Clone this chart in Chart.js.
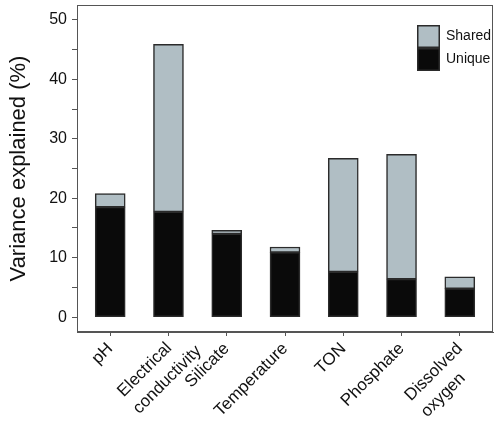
<!DOCTYPE html>
<html><head><meta charset="utf-8">
<script src="https://cdn.jsdelivr.net/npm/chart.js@4"></script>
<style>html,body{margin:0;padding:0;background:#fff}#w{width:500px;height:427px}</style>
</head><body><div id="w"><canvas id="c"></canvas></div>
<script>
const categories = [['pH'], ['Electrical', 'conductivity'], ['Silicate'], ['Temperature'], ['TON'], ['Phosphate'], ['Dissolved', 'oxygen']];
const uniqueVals = [18.5, 17.7, 14.0, 10.9, 7.6, 6.4, 4.8];
const sharedVals = [2.3, 28.2, 0.6, 0.9, 19.1, 21.0, 2.0];
const yTickValues = [0, 5, 10, 15, 20, 25, 30, 35, 40, 45, 50];
const seriesNames = ['Unique', 'Shared'];

const FONT = '"Liberation Sans", Arial, Helvetica, sans-serif';
const AXIS = '#555';
const XFONT = 17;

// pad lines with trailing spaces so multi-line rotated labels look left-aligned
const mctx = document.createElement('canvas').getContext('2d');
mctx.font = XFONT + 'px ' + FONT;
const labelShift = [];
function padLines(lines, idx) {
  labelShift[idx] = 0;
  if (lines.length < 2) return lines[0];
  const sp = mctx.measureText(' ').width;
  const ws = lines.map(l => mctx.measureText(l).width);
  const mx = Math.max(...ws);
  const out = lines.map((l, i) => l + ' '.repeat(Math.round((mx - ws[i]) / sp)));
  labelShift[idx] = mx - ws[0]; // first line should end at the tick
  return out;
}
function noPad(s) { s.paddingTop = 0; s.paddingBottom = 0; s.paddingLeft = 0; s.paddingRight = 0; }

const framePlugin = {
  id: 'frame',
  beforeDraw(chart) {
    const sc = chart.scales.x;
    const items = sc.getLabelItems();
    items.forEach((it, i) => {
      const d = labelShift[i] || 0;
      if (d && !it._shifted) {
        const r = it.options.rotation;
        it.options.translation = [it.options.translation[0] + d * Math.cos(r), it.options.translation[1] + d * Math.sin(r)];
        it._shifted = true;
      }
    });
  },
  afterDatasetsDraw(chart) {
    const {ctx, chartArea: a} = chart;
    ctx.save();
    ctx.strokeStyle = AXIS;
    ctx.lineWidth = 1;
    ctx.strokeRect(a.left + 0.5, a.top + 0.5, a.right - a.left - 1, a.bottom - a.top - 1);
    // legend
    const ds = chart.data.datasets.slice().reverse();
    const bx = a.right - 76, by = a.top + 20, s = 23;
    ds.forEach((d, i) => {
      const y = by + i * s;
      ctx.fillStyle = d.backgroundColor;
      ctx.fillRect(bx, y, s, s);
      ctx.strokeStyle = '#2b2b2b';
      ctx.lineWidth = 1.5;
      ctx.strokeRect(bx + 0.75, y + 0.75, s - 1.5, s - 1.5);
      ctx.fillStyle = '#111';
      ctx.font = '14px ' + FONT;
      ctx.textBaseline = 'middle';
      ctx.textAlign = 'left';
      ctx.fillText(d.label, bx + s + 6, y + s / 2);
    });
    ctx.restore();
  }
};

new Chart(document.getElementById('c'), {
  type: 'bar',
  data: {
    datasets: [
      {label: seriesNames[0], data: uniqueVals.map((v, i) => ({x: i, y: v})), backgroundColor: '#0a0a0a', borderColor: '#2b2b2b', borderWidth: 1.5, borderSkipped: false},
      {label: seriesNames[1], data: sharedVals.map((v, i) => ({x: i, y: v})), backgroundColor: '#b0bec4', borderColor: '#2b2b2b', borderWidth: 1.5, borderSkipped: false}
    ]
  },
  options: {
    responsive: true,
    maintainAspectRatio: false,
    animation: false,
    devicePixelRatio: 1,
    layout: {padding: {top: 5, right: 7, left: 0, bottom: 0}},
    datasets: {bar: {barThickness: 30}},
    plugins: {legend: {display: false}, tooltip: {enabled: false}},
    scales: {
      x: {
        type: 'linear',
        stacked: true,
        offset: false,
        min: -0.57, max: categories.length - 1 + 0.57,
        afterBuildTicks(s) { s.ticks = categories.map((c, i) => ({value: i})); },
        grid: {display: true, drawOnChartArea: false, offset: false, tickLength: 4, color: AXIS},
        border: {display: true, color: AXIS},
        afterFit(s) { s.height = 95; noPad(s); },
        ticks: {
          autoSkip: false, maxRotation: 45, minRotation: 45, padding: 2,
          color: '#111', font: {family: FONT, size: XFONT, lineHeight: 1.35},
          callback(v, i) { return padLines(categories[v], v); }
        }
      },
      y: {
        stacked: true,
        min: -2.5, max: 52.5,
        afterBuildTicks(s) { s.ticks = yTickValues.map(v => ({value: v})); },
        afterFit(s) { s.width = 77; noPad(s); },
        grid: {display: true, drawOnChartArea: false, tickLength: 5, color: AXIS},
        border: {display: true, color: AXIS},
        ticks: {
          padding: 5, color: '#111', font: {family: FONT, size: 16},
          callback(v) { return v % 10 === 0 ? String(v) : ''; }
        },
        title: {display: true, text: 'Variance explained (%)', color: '#111', font: {family: FONT, size: 22}, padding: {top: 6, bottom: 0}}
      }
    }
  },
  plugins: [framePlugin]
});
</script>
</body></html>
